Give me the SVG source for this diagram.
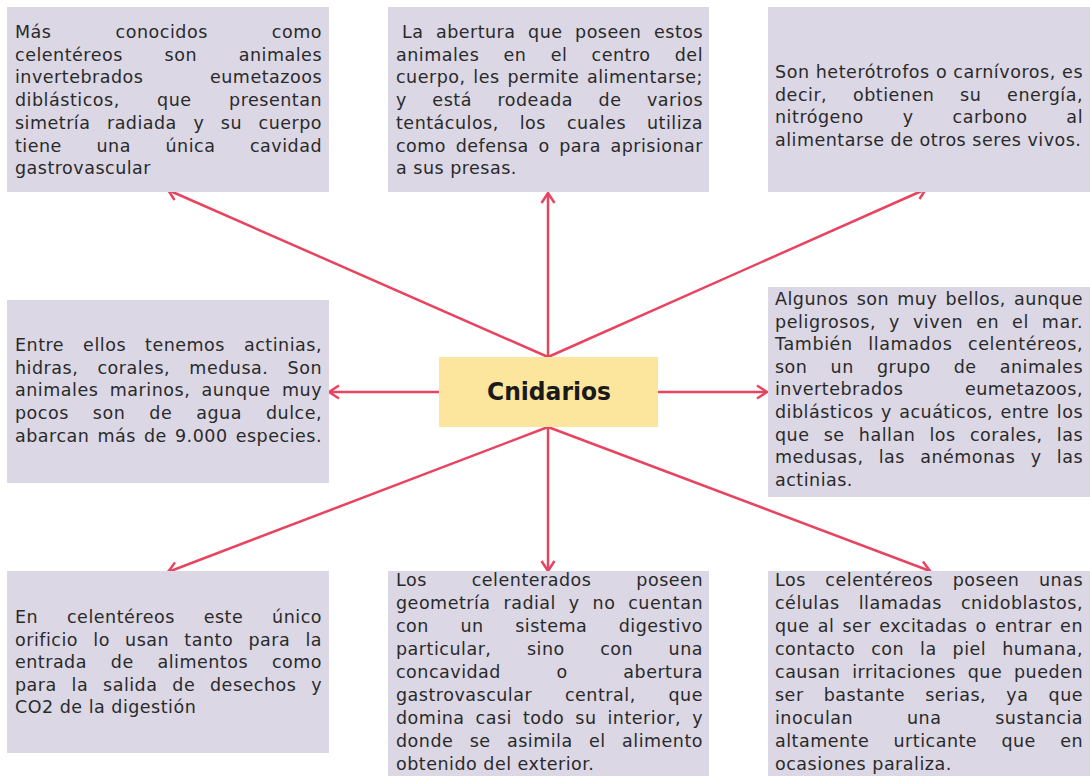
<svg xmlns="http://www.w3.org/2000/svg" width="1090" height="776" viewBox="0 0 1090 776">
<defs>
<style>
.box{fill:#dbd7e5}
.t{font-family:"DejaVu Sans","Liberation Sans",sans-serif;font-size:17.5px;letter-spacing:0.5px;fill:#2a2a2a}
.c{stroke:#e8445f;stroke-width:2.5;fill:none;marker-end:url(#ah)}
.title{font-family:"DejaVu Sans","Liberation Sans",sans-serif;font-size:25px;font-weight:bold;fill:#1a1a1a;text-anchor:middle}
</style>
<marker id="ah" markerUnits="userSpaceOnUse" markerWidth="16" markerHeight="16" viewBox="0 0 16 16" refX="13" refY="8" orient="auto">
<path d="M3,1.5 L13,8 L3,14.5" fill="none" stroke="#e8445f" stroke-width="2.5" stroke-linejoin="miter"/>
</marker>
</defs>
<rect width="1090" height="776" fill="#ffffff"/>

<g id="connectors">
<line class="c" x1="548" y1="357" x2="168" y2="190"/>
<line class="c" x1="548" y1="357" x2="548" y2="193"/>
<line class="c" x1="548" y1="357" x2="926" y2="189"/>
<line class="c" x1="439" y1="392" x2="329" y2="392"/>
<line class="c" x1="658" y1="392" x2="767" y2="392"/>
<line class="c" x1="548" y1="427" x2="168" y2="572"/>
<line class="c" x1="548" y1="427" x2="548" y2="571"/>
<line class="c" x1="548" y1="427" x2="930" y2="571"/>
</g>

<g id="node-center">
<rect x="439" y="357" width="219" height="70" fill="#fce59c"/>
<text class="title" x="549" y="400" textLength="124" lengthAdjust="spacingAndGlyphs">Cnidarios</text>
</g>

<g id="node-top-left">
<rect class="box" x="7" y="7" width="322" height="185"/>
<text class="t" x="15" y="38" textLength="307" word-spacing="58">Más conocidos como</text>
<text class="t" x="15" y="60.7" textLength="307" word-spacing="35.6">celentéreos son animales</text>
<text class="t" x="15" y="83.4" textLength="307" word-spacing="60.6">invertebrados eumetazoos</text>
<text class="t" x="15" y="106.1" textLength="307" word-spacing="31.3">diblásticos, que presentan</text>
<text class="t" x="15" y="128.8" textLength="307" word-spacing="10.5">simetría radiada y su cuerpo</text>
<text class="t" x="15" y="151.5" textLength="307" word-spacing="28.5">tiene una única cavidad</text>
<text class="t" x="15" y="174.2">gastrovascular</text>
</g>

<g id="node-top-middle">
<rect class="box" x="388" y="7" width="321" height="185"/>
<text class="t" x="402" y="38" textLength="301" word-spacing="6.7">La abertura que poseen estos</text>
<text class="t" x="396" y="60.7" textLength="307" word-spacing="18.2">animales en el centro del</text>
<text class="t" x="396" y="83.4" textLength="307" word-spacing="1.7">cuerpo, les permite alimentarse;</text>
<text class="t" x="396" y="106.1" textLength="307" word-spacing="19.4">y está rodeada de varios</text>
<text class="t" x="396" y="128.8" textLength="307" word-spacing="14.9">tentáculos, los cuales utiliza</text>
<text class="t" x="396" y="151.5" textLength="307" word-spacing="3.5">como defensa o para aprisionar</text>
<text class="t" x="396" y="174.2">a sus presas.</text>
</g>

<g id="node-top-right">
<rect class="box" x="768" y="7" width="322" height="185"/>
<text class="t" x="775" y="78" textLength="308">Son heterótrofos o carnívoros, es</text>
<text class="t" x="775" y="100.6" textLength="308" word-spacing="19.7">decir, obtienen su energía,</text>
<text class="t" x="775" y="123.2" textLength="308" word-spacing="32.9">nitrógeno y carbono al</text>
<text class="t" x="775" y="145.8">alimentarse de otros seres vivos.</text>
</g>

<g id="node-middle-left">
<rect class="box" x="7" y="300" width="322" height="183"/>
<text class="t" x="15" y="351.2" textLength="307" word-spacing="12.9">Entre ellos tenemos actinias,</text>
<text class="t" x="15" y="373.8" textLength="307" word-spacing="13.2">hidras, corales, medusa. Son</text>
<text class="t" x="15" y="396.4" textLength="307" word-spacing="5.3">animales marinos, aunque muy</text>
<text class="t" x="15" y="419" textLength="307" word-spacing="18">pocos son de agua dulce,</text>
<text class="t" x="15" y="441.6" textLength="307" word-spacing="2">abarcan más de 9.000 especies.</text>
</g>

<g id="node-middle-right">
<rect class="box" x="768" y="287" width="322" height="210"/>
<text class="t" x="775" y="305" textLength="308" word-spacing="2.1">Algunos son muy bellos, aunque</text>
<text class="t" x="775" y="327.6" textLength="308" word-spacing="6.8">peligrosos, y viven en el mar.</text>
<text class="t" x="775" y="350.2" textLength="308" word-spacing="9.4">También llamados celentéreos,</text>
<text class="t" x="775" y="372.8" textLength="308" word-spacing="17.1">son un grupo de animales</text>
<text class="t" x="775" y="395.4" textLength="308" word-spacing="55.5">invertebrados eumetazoos,</text>
<text class="t" x="775" y="418" textLength="308" word-spacing="1.3">diblásticos y acuáticos, entre los</text>
<text class="t" x="775" y="440.6" textLength="308" word-spacing="8.2">que se hallan los corales, las</text>
<text class="t" x="775" y="463.2" textLength="308" word-spacing="9.2">medusas, las anémonas y las</text>
<text class="t" x="775" y="485.8">actinias.</text>
</g>

<g id="node-bottom-left">
<rect class="box" x="7" y="571" width="322" height="182"/>
<text class="t" x="15" y="623" textLength="307" word-spacing="22.7">En celentéreos este único</text>
<text class="t" x="15" y="645.6" textLength="307" word-spacing="9.2">orificio lo usan tanto para la</text>
<text class="t" x="15" y="668.2" textLength="307" word-spacing="17.8">entrada de alimentos como</text>
<text class="t" x="15" y="690.8" textLength="307" word-spacing="8.8">para la salida de desechos y</text>
<text class="t" x="15" y="713.4">CO2 de la digestión</text>
</g>

<g id="node-bottom-middle">
<rect class="box" x="388" y="571" width="321" height="205"/>
<text class="t" x="396" y="586" textLength="307" word-spacing="38.8">Los celenterados poseen</text>
<text class="t" x="396" y="609" textLength="307" word-spacing="6.8">geometría radial y no cuentan</text>
<text class="t" x="396" y="632" textLength="307" word-spacing="25.5">con un sistema digestivo</text>
<text class="t" x="396" y="655" textLength="307" word-spacing="29.4">particular, sino con una</text>
<text class="t" x="396" y="678" textLength="307" word-spacing="49.5">concavidad o abertura</text>
<text class="t" x="396" y="701" textLength="307" word-spacing="26.7">gastrovascular central, que</text>
<text class="t" x="396" y="724" textLength="307" word-spacing="4.9">domina casi todo su interior, y</text>
<text class="t" x="396" y="747" textLength="307" word-spacing="10.3">donde se asimila el alimento</text>
<text class="t" x="396" y="770">obtenido del exterior.</text>
</g>

<g id="node-bottom-right">
<rect class="box" x="768" y="571" width="322" height="205"/>
<text class="t" x="775" y="586" textLength="308" word-spacing="13.4">Los celentéreos poseen unas</text>
<text class="t" x="775" y="609" textLength="308" word-spacing="13">células llamadas cnidoblastos,</text>
<text class="t" x="775" y="632" textLength="308" word-spacing="2.1">que al ser excitadas o entrar en</text>
<text class="t" x="775" y="655" textLength="308" word-spacing="9.9">contacto con la piel humana,</text>
<text class="t" x="775" y="678" textLength="308" word-spacing="5.7">causan irritaciones que pueden</text>
<text class="t" x="775" y="701" textLength="308" word-spacing="14.1">ser bastante serias, ya que</text>
<text class="t" x="775" y="724" textLength="308" word-spacing="47.8">inoculan una sustancia</text>
<text class="t" x="775" y="747" textLength="308" word-spacing="18.2">altamente urticante que en</text>
<text class="t" x="775" y="770">ocasiones paraliza.</text>
</g>
</svg>
